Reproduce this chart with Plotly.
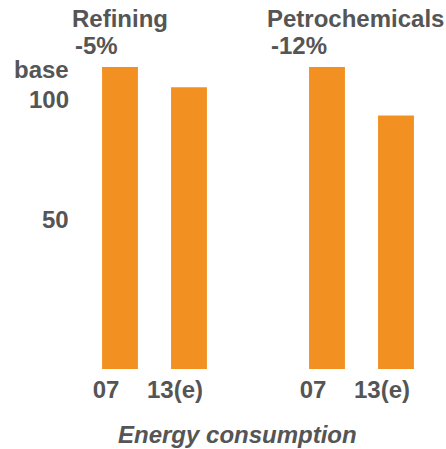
import plotly.graph_objects as go

# Data (index, 2007 = base 100)
positions = [0, 1, 3, 4]
tick_labels = ["07", "13(e)", "07", "13(e)"]
values = [100, 95, 100, 88]
sector_names = ["Refining", "Petrochemicals"]
sector_changes = ["-5%", "-12%"]

ORANGE = "#F39022"
GREY = "#555555"
FONT = "Liberation Sans, Arial, sans-serif"
FS = 24

W, H = 446, 449
ML, MR, MT, MB = 58, 8, 60, 80
PW, PH = W - ML - MR, H - MT - MB

x_range = [-(120 - ML) / 69, -(120 - ML) / 69 + PW / 69]
ppu = 4.05
y_bottom = 100 - (369 - 67) / ppu
y_range = [y_bottom, y_bottom + PH / ppu]

fig = go.Figure()
fig.add_trace(go.Bar(x=positions, y=values, width=0.52,
                     marker=dict(color=ORANGE, line=dict(width=0)),
                     hoverinfo="skip"))

def px_x(px):
    return (px - ML) / PW

def px_y(py):
    return (H - MB - py) / PH

ann = []
# sector titles
title_pos = [(70, 73), (265, 269)]
for name, chg, (xn, xc) in zip(sector_names, sector_changes, title_pos):
    ann.append(dict(text=name, x=px_x(xn), y=px_y(18), xanchor="left", yanchor="middle"))
    ann.append(dict(text=chg, x=px_x(xc), y=px_y(45), xanchor="left", yanchor="middle"))
# y labels
ann.append(dict(text="base", x=px_x(71), y=px_y(70), xanchor="right", yanchor="middle"))
ann.append(dict(text="100", x=px_x(71), y=px_y(99), xanchor="right", yanchor="middle"))
ann.append(dict(text="50", x=px_x(71), y=px_y(219), xanchor="right", yanchor="middle"))
# axis caption
ann.append(dict(text="<i>Energy consumption</i>", x=px_x(237), y=px_y(435),
                xanchor="center", yanchor="middle"))
for a in ann:
    a.update(xref="paper", yref="paper", showarrow=False,
             font=dict(family=FONT, size=FS, color=GREY, weight="bold"))

fig.update_layout(
    width=W, height=H,
    margin=dict(l=ML, r=MR, t=MT, b=MB, pad=0),
    paper_bgcolor="white", plot_bgcolor="white",
    showlegend=False,
    annotations=ann,
    xaxis=dict(range=x_range, tickmode="array", tickvals=positions, ticktext=tick_labels,
               showgrid=False, zeroline=False, showline=False, ticks="",
               ticklabelshift=-14, ticklabelstandoff=4,
               tickfont=dict(family=FONT, size=FS, color=GREY, weight="bold")),
    yaxis=dict(range=y_range, showgrid=False, zeroline=False, showline=False,
               showticklabels=False, ticks=""),
)

fig.write_html("out.html", config={"displayModeBar": False},
               post_script="document.body.style.margin='0';document.body.style.overflow='hidden';")
